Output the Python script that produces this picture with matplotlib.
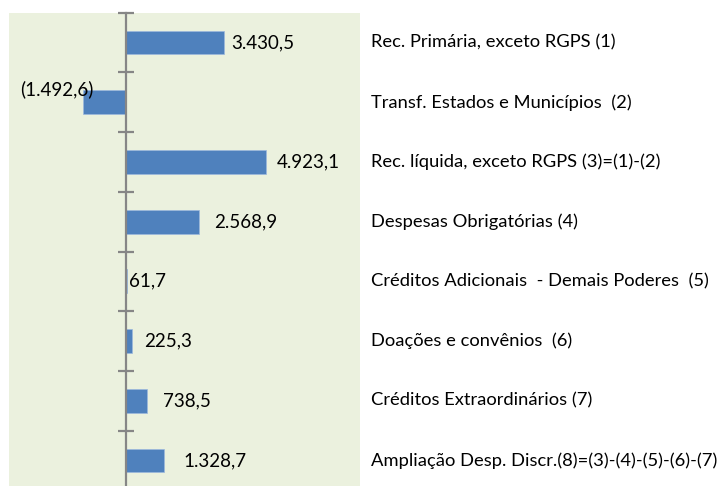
import matplotlib
matplotlib.use("Agg")
import matplotlib.pyplot as plt

plt.rcParams['font.family'] = ['Lato', 'DejaVu Sans']

# data
categories = [
    "Rec. Primária, exceto RGPS (1)",
    "Transf. Estados e Municípios  (2)",
    "Rec. líquida, exceto RGPS (3)=(1)-(2)",
    "Despesas Obrigatórias (4)",
    "Créditos Adicionais  - Demais Poderes  (5)",
    "Doações e convênios  (6)",
    "Créditos Extraordinários (7)",
    "Ampliação Desp. Discr.(8)=(3)-(4)-(5)-(6)-(7)",
]
values = [3430.5, -1492.6, 4923.1, 2568.9, 61.7, 225.3, 738.5, 1328.7]
value_labels = ["3.430,5", "(1.492,6)", "4.923,1", "2.568,9",
                "61,7", "225,3", "738,5", "1.328,7"]

# label nudges in pixels (dx, dy)
label_dx = [8, 11, 10, 15, 2, 12, 16, 20]
label_dy = [0, 13, 0, 0, 0, 0, 0, 0]

W, H = 728, 486
fig = plt.figure(figsize=(W / 100, H / 100), dpi=100)
fig.patch.set_facecolor("white")

# panel spans x 9..360 px, top at 12.7 px, runs past the bottom edge
ax = fig.add_axes([9 / W, (H - 490.3) / H, 351 / W, 477.6 / H])
ax.set_facecolor("#EBF1DE")

ypos = list(range(len(values)))
ax.barh(ypos, values, height=0.4, color="#4F81BD", edgecolor="#9DB9DE",
        linewidth=0.5, zorder=2)

ax.set_xlim(-4075, 8200)
ax.set_ylim(len(values) - 0.5, -0.5)

for sp in ["top", "right", "bottom"]:
    ax.spines[sp].set_visible(False)
ax.spines["left"].set_position(("data", 0))
ax.spines["left"].set_color("#868686")
ax.spines["left"].set_linewidth(1.6)
ax.spines["left"].set_zorder(3)

ax.set_xticks([])
ax.set_yticks([i - 0.5 for i in range(len(values) + 1)])
ax.set_yticklabels([])
ax.tick_params(axis="y", direction="inout", length=11, width=1.6,
               color="#868686")

px = 72 / 100
for i, (v, lab) in enumerate(zip(values, value_labels)):
    if v < 0:
        ax.annotate(lab, (v, i), xytext=(label_dx[i] * px, label_dy[i] * px),
                    textcoords="offset points", ha="right", va="center",
                    fontsize=13.5, color="black", zorder=4)
    else:
        ax.annotate(lab, (v, i), xytext=(label_dx[i] * px, label_dy[i] * px),
                    textcoords="offset points", ha="left", va="center",
                    fontsize=13.5, color="black", zorder=4)

# category names to the right of the panel
for i, cat in enumerate(categories):
    ax.text((371 - 9) / 351, i, cat, transform=ax.get_yaxis_transform(),
            ha="left", va="center", fontsize=13.2, color="black",
            clip_on=False)

fig.savefig("out.png", dpi=100)
